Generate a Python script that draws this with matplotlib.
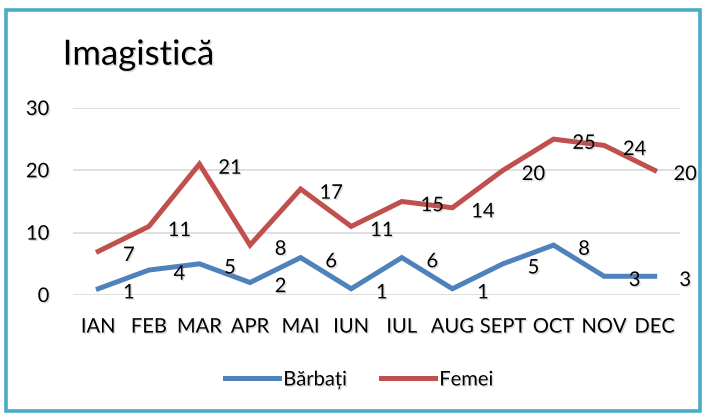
import matplotlib
matplotlib.use('Agg')
from matplotlib import pyplot as plt
from matplotlib import patheffects as pe
from matplotlib.patches import Rectangle

plt.rcParams['font.family'] = ['Lato', 'DejaVu Sans']

months = ['IAN', 'FEB', 'MAR', 'APR', 'MAI', 'IUN', 'IUL', 'AUG', 'SEPT', 'OCT', 'NOV', 'DEC']
barbati = [1, 4, 5, 2, 6, 1, 6, 1, 5, 8, 3, 3]
femei = [7, 11, 21, 8, 17, 11, 15, 14, 20, 25, 24, 20]
yticks = [0, 10, 20, 30]

blue = '#4f81bd'
red = '#c0504d'
shadow = [pe.withSimplePatchShadow(offset=(1, -1), shadow_rgbFace='#999999', alpha=0.35)]

fig = plt.figure(figsize=(7.04, 4.17), dpi=100)
ax = fig.add_axes([0.1037, 0.2926, 0.8622, 0.4484])

x = list(range(len(months)))
ax.plot(x, barbati, color=blue, lw=3.6, label='Bărbați', solid_joinstyle='miter')
ax.plot(x, femei, color=red, lw=3.6, label='Femei', solid_joinstyle='miter')

for i in x:
    ax.annotate(str(barbati[i]), (i, barbati[i]), xytext=(22, -3), textcoords='offset points',
                ha='center', va='center', fontsize=14.5, path_effects=shadow)
    ax.annotate(str(femei[i]), (i, femei[i]), xytext=(22, -3), textcoords='offset points',
                ha='center', va='center', fontsize=14.5, path_effects=shadow)

ax.set_xlim(-0.5, 11.5)
ax.set_ylim(0, 30)
ax.set_xticks(x)
ax.set_xticklabels(months, fontsize=14.5)
ax.set_yticks(yticks)
ax.set_yticklabels([str(v) for v in yticks], fontsize=14.5)
for t in ax.get_xticklabels() + ax.get_yticklabels():
    t.set_path_effects(shadow)
ax.tick_params(length=0)
ax.tick_params(axis='x', pad=17)
ax.tick_params(axis='y', pad=17)
ax.grid(axis='y', color='#d9d9d9', lw=1.2)
ax.set_axisbelow(True)
for s in ax.spines.values():
    s.set_visible(False)

fig.text(0.089, 0.845, 'Imagistică', fontsize=25, ha='left', va='baseline', path_effects=shadow)

leg = fig.legend(loc='center', bbox_to_anchor=(0.51, 0.089), ncol=2, frameon=False,
                 fontsize=14.5, handlelength=2.7, handletextpad=0.2, columnspacing=1.7)
for t in leg.get_texts():
    t.set_path_effects(shadow)

fig.patches.append(Rectangle((0.009, 0.014), 0.985, 0.962, transform=fig.transFigure,
                             fill=False, edgecolor='#4bacc6', lw=2.6))

fig.savefig('out.png', dpi=100)
